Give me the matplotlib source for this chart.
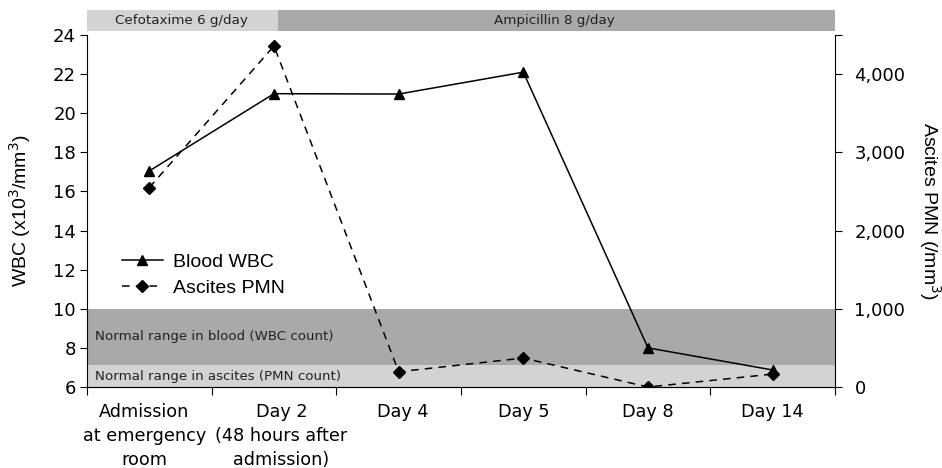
import matplotlib
matplotlib.use("Agg")
import matplotlib.pyplot as plt
import matplotlib.transforms as mtransforms

categories = ["Admission\nat emergency\nroom", "Day 2\n(48 hours after\nadmission)", "Day 4", "Day 5", "Day 8", "Day 14"]
blood_wbc = [17.05, 21.0, 20.98, 22.1, 8.0, 6.87]
ascites_pmn = [2550, 4360, 195, 370, 0, 165]
wbc_ticks = [6, 8, 10, 12, 14, 16, 18, 20, 22, 24]
pmn_ticks = [0, 1000, 2000, 3000, 4000]
blood_normal = [7.12, 10.0]
ascites_normal = [6.0, 7.12]
treatments = ["Cefotaxime 6 g/day", "Ampicillin 8 g/day"]
treat_start = [-0.5, 1.03]
treat_end = [1.03, 5.5]
treat_colors = ["#d3d3d3", "#a9a9a9"]

MAIN = ['DejaVu Sans']
ARIAL = ['Liberation Sans', 'DejaVu Sans']
plt.rcParams['font.family'] = MAIN
fig = plt.figure(figsize=(9.42, 4.68), dpi=100)
ax = fig.add_axes([87/942, 81/468, (835-87)/942, 352/468])
x = list(range(len(categories)))

ax.axhspan(blood_normal[0], blood_normal[1], color="#a9a9a9", lw=0, zorder=0)
ax.axhspan(ascites_normal[0], ascites_normal[1], color="#d3d3d3", lw=0, zorder=0)
ax.text(-0.435, (blood_normal[0] + blood_normal[1]) / 2, "Normal range in blood (WBC count)",
        fontsize=9.6, va="center", ha="left", color="#222222")
ax.text(-0.435, (ascites_normal[0] + ascites_normal[1]) / 2, "Normal range in ascites (PMN count)",
        fontsize=9.6, va="center", ha="left", color="#222222")

ax.set_xlim(-0.5, 5.5)
ax.set_ylim(6, 24)
ax.set_yticks(wbc_ticks)
ax.tick_params(axis='y', labelsize=13, length=5, direction='out', pad=3)
ax.set_xticks([i - 0.5 for i in range(len(categories) + 1)])
ax.set_xticklabels([])
ax.tick_params(axis='x', which='major', length=6, direction='out')

# category labels, nudged slightly as in the reference layout
label_shift = [-0.04, 0.06, 0.03, 0.0, 0.0, 0.0]
xtrans = mtransforms.blended_transform_factory(ax.transData, ax.transAxes)
for xi, lab, sh in zip(x, categories, label_shift):
    ax.text(xi + sh, -0.045, lab, transform=xtrans, ha="center", va="top",
            fontsize=12.7, linespacing=1.42, multialignment="center")

ax.spines['top'].set_visible(False)
ax.spines['right'].set_visible(False)
ax.set_ylabel("WBC (x10$^3$/mm$^3$)", fontsize=14, labelpad=14, family=ARIAL)

ax2 = ax.twinx()
ax2.set_ylim(0, 4500)
ax2.set_yticks(pmn_ticks + [4500])
ax2.set_yticklabels([f"{v:,}" for v in pmn_ticks] + [""])
ax2.tick_params(axis='y', labelsize=13, length=5, direction='out', pad=9)
ax2.spines['top'].set_visible(False)
ax2.spines['left'].set_visible(False)
ax2.set_ylabel("Ascites PMN (/mm$^3$)", fontsize=14, rotation=-90, labelpad=27, family=ARIAL)

l1, = ax.plot(x, blood_wbc, color="black", lw=1.1, marker="^", ms=7.5, label="Blood WBC", zorder=3)
l2, = ax2.plot(x, ascites_pmn, color="black", lw=1.1, ls=(0, (5, 4)), marker="D", ms=6.5,
               label="Ascites PMN", zorder=3)
ax.legend([l1, l2], ["Blood WBC", "Ascites PMN"], loc="upper left", bbox_to_anchor=(0.023, 0.43),
          frameon=False, prop={'family': ARIAL, 'size': 14}, handlelength=2.1,
          handletextpad=0.55, labelspacing=0.42)

trans = mtransforms.blended_transform_factory(ax.transData, ax.transAxes)
for name, s, e, c in zip(treatments, treat_start, treat_end, treat_colors):
    ax.add_patch(plt.Rectangle((s, 1 + 4/352), e - s, 21/352, transform=trans, color=c,
                               clip_on=False, lw=0))
text_x = [0.26, 3.25]
for name, tx in zip(treatments, text_x):
    ax.text(tx, 1 + 14.5/352, name, transform=trans, ha="center", va="center",
            fontsize=9.7, color="#222222")

fig.savefig("out.png", dpi=100)
